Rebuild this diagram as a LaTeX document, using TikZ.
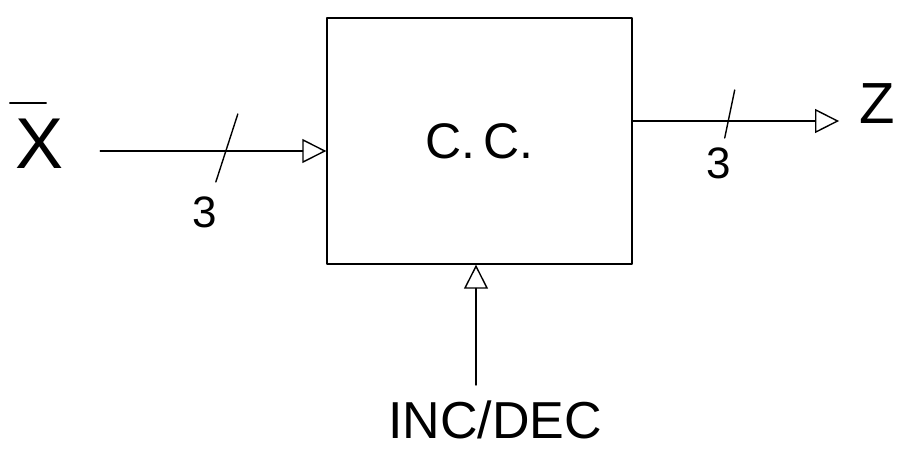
\documentclass[tikz,border=0pt]{standalone}
\usepackage{fontspec}
\setmainfont{Liberation Sans}
\usetikzlibrary{arrows.meta,calc}
\begin{document}
\begin{tikzpicture}[x=1pt,y=-1pt,
  pen/.style={line width=1.4pt, line cap=round, line join=round},
  sig/.style={pen, -{Triangle[open, length=24pt, width=24pt, line width=1.4pt]}},
  lbl/.style={inner sep=0pt, font=\fontsize{52}{56}\selectfont},
  buswidth/.style={inner sep=0pt, font=\fontsize{44}{48}\selectfont}]
\useasboundingbox (0,0) rectangle (907,456);

% combinational block
\node[pen, draw, minimum width=305pt, minimum height=246pt, inner sep=0pt,
      font=\fontsize{50}{54}\selectfont] (cc) at (479.5,141) {C.\,C.};

% input vector X (bar drawn over the letter)
\node[inner sep=0pt, font=\fontsize{72}{76}\selectfont] (xin) at (40,144) {X};
\draw[pen] ([xshift=-6pt,yshift=16pt]xin.north west) -- ([xshift=-18pt,yshift=16pt]xin.north east);

% output Z
\node[inner sep=0pt, font=\fontsize{58}{62}\selectfont] (zout) at (877,104) {Z};

% control input
\node[lbl] (inc) at (495,420) {INC/DEC};
\coordinate (incin) at (476,385);

% input bus, 3 bits
\draw[sig] (xin.east |- 0,151) ++(36,0) coordinate (xa) -- (cc.west |- xa)
  coordinate[pos=0.56] (s1);
\draw[pen] ($(s1)+(-11,31)$) -- ($(s1)+(11,-37)$);
\node[buswidth] (n1) at (205,212) {3};

% output bus, 3 bits
\draw[sig] (cc.east |- 0,121) coordinate (za) -- ([xshift=-20pt]zout.west |- za)
  coordinate[pos=0.47] (s2);
\draw[pen] ($(s2)+(-5,17)$) -- ($(s2)+(5,-31)$);
\node[buswidth] (n2) at (719,163) {3};

% increment / decrement select
\draw[sig] (incin) -- (incin |- cc.south);
\end{tikzpicture}
\end{document}
